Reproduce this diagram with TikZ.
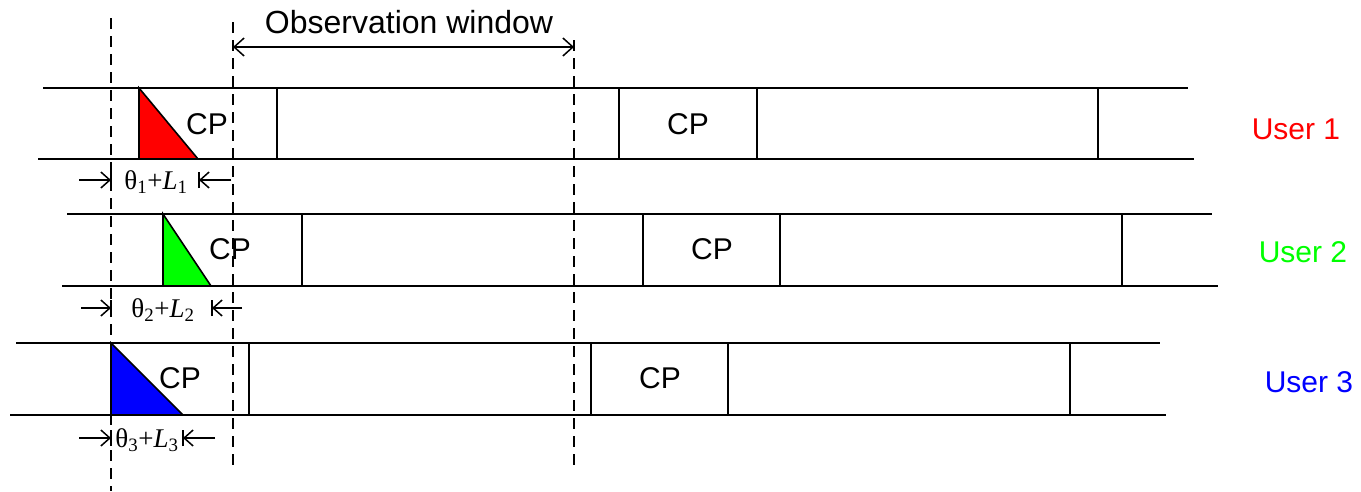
\documentclass[tikz,border=0pt]{standalone}
\usepackage{fontspec}
\setmainfont{Liberation Serif}
\newfontfamily\arialfont{Liberation Sans}
\usetikzlibrary{arrows.meta}
\definecolor{ured}{RGB}{255,0,0}
\definecolor{ugreen}{RGB}{0,255,0}
\definecolor{ublue}{RGB}{0,0,255}
\begin{document}
\begin{tikzpicture}[x=1pt,y=-1pt,
  rail/.style={line width=2.2pt},
  sepline/.style={line width=1.6pt},
  guide/.style={line width=1.5pt, dash pattern=on 11pt off 7pt},
  cpwedge/.style={line width=1.6pt, line join=miter},
  dimarrow/.style={line width=1.5pt, -{Straight Barb[length=9pt,width=16pt]}},
  winarrow/.style={line width=1.5pt, {Straight Barb[length=10pt,width=18pt]}-{Straight Barb[length=10pt,width=18pt]}},
  tipbar/.style={line width=1.5pt},
  lbl/.style={font=\arialfont\fontsize{30}{30}\selectfont, inner sep=0pt, anchor=center},
  dimlbl/.style={font=\fontsize{27}{27}\selectfont, inner sep=0pt},
]
\useasboundingbox (0,0) rectangle (1361,491);

% vertical guides
\coordinate (g1t) at (111,18);  \coordinate (g1b) at (111,491);
\coordinate (g2t) at (233,22);  \coordinate (g2b) at (233,470);
\coordinate (g3t) at (574,40);  \coordinate (g3b) at (574,468);
\draw[guide] (g1t) -- (g1b);
\draw[guide] (g2t) -- (g2b);
\draw[guide] (g3t) -- (g3b);

% observation window
\coordinate (wl) at (233,47);
\coordinate (wr) at (574,47);
\draw[winarrow] (wl) -- (wr);
\node[lbl, font=\arialfont\fontsize{32}{32}\selectfont] (wtext) at (409,22) {Observation window};

% ---------- user 1 ----------
\draw[rail] (43,88) -- (1188,88);
\draw[rail] (38,159) -- (1194,159);
\filldraw[cpwedge, fill=ured] (139,88) -- (139,159) -- (198,159) -- cycle;
\foreach \x in {277,619,757,1098} \draw[sepline] (\x,88) -- (\x,159);
\node[lbl] (cp1a) at (207,124) {CP};
\node[lbl] (cp1b) at (688,124) {CP};
\node[lbl, text=ured] (u1) at (1296,129) {User 1};
% offset marker
\coordinate (d1a) at (79,180);  \coordinate (d1b) at (111,180);
\coordinate (d1c) at (231,180); \coordinate (d1d) at (199,180);
\draw[dimarrow] (d1a) -- (d1b);
\draw[dimarrow] (d1c) -- (d1d);
\draw[tipbar] ([yshift=-8pt]d1b) -- ([yshift=8pt]d1b);
\draw[tipbar] ([yshift=-8pt]d1d) -- ([yshift=8pt]d1d);
\node[dimlbl] (t1) at (156,182) {θ\textsubscript{1}+\textit{L}\textsubscript{1}};

% ---------- user 2 ----------
\draw[rail] (67,214) -- (1212,214);
\draw[rail] (62,286) -- (1218,286);
\filldraw[cpwedge, fill=ugreen] (163,214) -- (163,286) -- (211,286) -- cycle;
\foreach \x in {302,643,780,1122} \draw[sepline] (\x,214) -- (\x,286);
\node[lbl] (cp2a) at (230,249) {CP};
\node[lbl] (cp2b) at (712,249) {CP};
\node[lbl, text=ugreen] (u2) at (1303,252) {User 2};
\coordinate (d2a) at (81,308);  \coordinate (d2b) at (111,308);
\coordinate (d2c) at (242,308); \coordinate (d2d) at (212,308);
\draw[dimarrow] (d2a) -- (d2b);
\draw[dimarrow] (d2c) -- (d2d);
\draw[tipbar] ([yshift=-8pt]d2b) -- ([yshift=8pt]d2b);
\draw[tipbar] ([yshift=-8pt]d2d) -- ([yshift=8pt]d2d);
\node[dimlbl] (t2) at (163,310) {θ\textsubscript{2}+\textit{L}\textsubscript{2}};

% ---------- user 3 ----------
\draw[rail] (16,343) -- (1160,343);
\draw[rail] (10,415) -- (1166,415);
\filldraw[cpwedge, fill=ublue] (111,343) -- (111,415) -- (183,415) -- cycle;
\foreach \x in {249,591,728,1070} \draw[sepline] (\x,343) -- (\x,415);
\node[lbl] (cp3a) at (180,378) {CP};
\node[lbl] (cp3b) at (660,378) {CP};
\node[lbl, text=ublue] (u3) at (1309,382) {User 3};
\coordinate (d3a) at (79,438);  \coordinate (d3b) at (111,438);
\coordinate (d3c) at (215,438); \coordinate (d3d) at (183,438);
\draw[dimarrow] (d3a) -- (d3b);
\draw[dimarrow] (d3c) -- (d3d);
\draw[tipbar] ([yshift=-8pt]d3b) -- ([yshift=8pt]d3b);
\draw[tipbar] ([yshift=-8pt]d3d) -- ([yshift=8pt]d3d);
\node[dimlbl] (t3) at (147,440) {θ\textsubscript{3}+\textit{L}\textsubscript{3}};
\end{tikzpicture}
\end{document}
